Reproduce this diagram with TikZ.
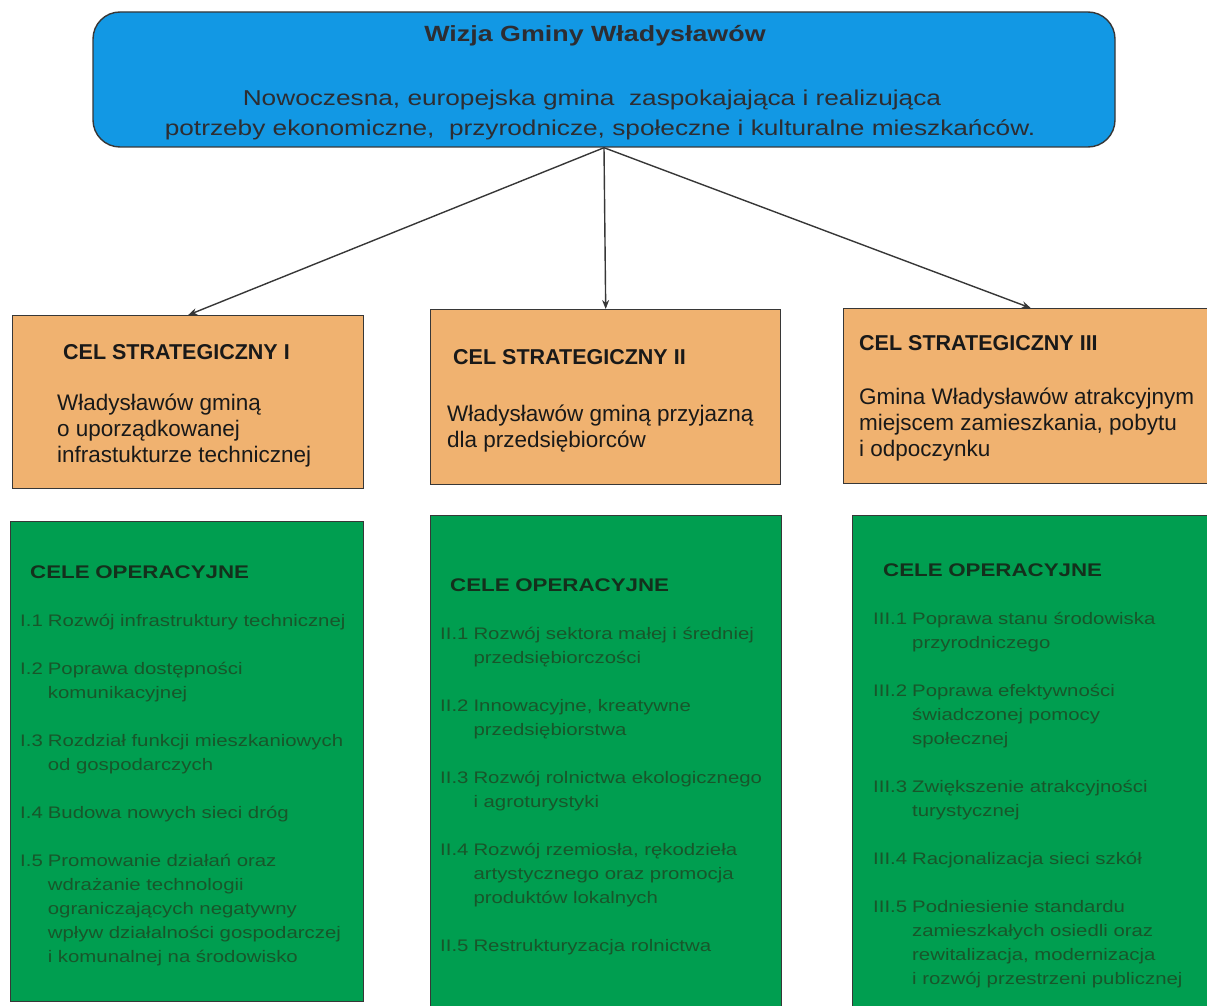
\documentclass[tikz,border=0pt]{standalone}
\usepackage{fontspec}
\usepackage{xcolor}
\usepackage{tikz}
\setmainfont{Liberation Sans}
\newfontfamily\szerokie{Liberation Sans}[FakeStretch=1.22]
\usetikzlibrary{arrows.meta,positioning}

\definecolor{wizjaBlue}{RGB}{18,152,228}
\definecolor{wizjaText}{RGB}{45,45,50}
\definecolor{celOrange}{RGB}{240,178,112}
\definecolor{opGreen}{RGB}{0,158,80}
\definecolor{opText}{RGB}{24,86,42}
\definecolor{opHead}{RGB}{20,48,28}
\definecolor{ramka}{RGB}{55,55,55}

\newcommand*{\cele}[4]{%
  \node [ opis, #3 ] at (#2) {%
    \hspace*{10pt}{\fontsize{18.3}{24}\selectfont\bfseries\color{opHead}CELE OPERACYJNE}\par
  \list{}{\settowidth{\labelwidth}{#1}\labelsep=0.3em
    \leftmargin=\labelwidth \advance\leftmargin by \labelsep
    \topsep=\baselineskip \partopsep=0pt \itemsep=\baselineskip
    \parsep=0pt \parskip=0pt \itemindent=0pt
    \def\makelabel##1{##1\hfil}}%
    #4
  \endlist
  };
}

\begin{document}
\begin{tikzpicture}[x=1pt, y=-1pt,
    every node/.style = {inner sep=0pt},
    ramka/.style    = {draw=ramka, line width=1.4pt},
    wizjabox/.style = {ramka, fill=wizjaBlue, rounded corners=27pt,
      minimum width=1022pt, minimum height=135pt},
    celbox/.style   = {ramka, fill=celOrange, anchor=north west},
    opbox/.style    = {ramka, fill=opGreen, anchor=north west},
    celhead/.style  = {anchor=west, text=black!90,
      font=\bfseries\fontsize{21.5}{26}\selectfont},
    celtxt/.style   = {anchor=north west, align=left, text=black!90,
      font=\fontsize{22.5}{26}\selectfont},
    opis/.style     = {anchor=north west, text width=355pt, align=left,
      text=opText, font=\szerokie\fontsize{16.7}{24}\selectfont},
    strzalka/.style = {-{Stealth[length=9pt, width=7pt]}, draw=ramka, line width=1.4pt}
  ]
  \useasboundingbox (0,0) rectangle (1207,1006);
  \clip (0,0) rectangle (1207,1006);

  \node[wizjabox] (wizja) at (604,79.5) {};
  \node[text=wizjaText, font=\szerokie\bfseries\fontsize{22}{26}\selectfont]
    (wizja-tytul) at ([xshift=-9pt,yshift=-24pt]wizja.north)
    {Wizja Gminy Władysławów};
  \node[align=center, text=wizjaText, font=\szerokie\fontsize{21.5}{30}\selectfont]
    (wizja-opis) at ([xshift=-4pt,yshift=-104pt]wizja.north)
    {Nowoczesna, europejska gmina~ zaspokajająca i realizująca\hspace*{16pt}\\
     potrzeby ekonomiczne,~ przyrodnicze, społeczne i kulturalne mieszkańców.};

  \node[celbox, minimum width=351pt, minimum height=173pt] (cel1) at (12,315) {};
  \node[celbox, minimum width=350pt, minimum height=175pt] (cel2) at (430,309) {};
  \node[celbox, minimum width=374pt, minimum height=175pt] (cel3) at (843,308) {};

  \node[celhead] (cel1-head) at ([xshift=51pt,yshift=-37pt]cel1.north west) {CEL STRATEGICZNY I};
  \node[celtxt] (cel1-txt) at ([xshift=45pt,yshift=-79pt]cel1.north west)
    {Władysławów gminą\\o uporządkowanej\\infrastukturze technicznej};
  \node[celhead] (cel2-head) at ([xshift=23pt,yshift=-48pt]cel2.north west) {CEL STRATEGICZNY II};
  \node[celtxt] (cel2-txt) at ([xshift=17pt,yshift=-96pt]cel2.north west)
    {Władysławów gminą przyjazną\\dla przedsiębiorców};
  \node[celhead] (cel3-head) at ([xshift=16pt,yshift=-35pt]cel3.north west) {CEL STRATEGICZNY III};
  \node[celtxt] (cel3-txt) at ([xshift=16pt,yshift=-80pt]cel3.north west)
    {Gmina Władysławów atrakcyjnym\\miejscem zamieszkania, pobytu\\i odpoczynku};

  \draw[strzalka] (wizja.south) -- (cel1.north);
  \draw[strzalka] (wizja.south) -- (cel2.north);
  \draw[strzalka] (wizja.south) -- (cel3.north);

  \node[opbox, minimum width=353pt, minimum height=480pt] (op1) at (10,521) {};
  \node[opbox, minimum width=351pt, minimum height=500pt] (op2) at (430,515) {};
  \node[opbox, minimum width=370pt, minimum height=500pt] (op3) at (852,515) {};

  \cele{I.1}{[xshift=10pt,yshift=-44.5pt]op1.north west}{}{%
    \item[I.1] Rozwój infrastruktury technicznej
    \item[I.2] Poprawa dostępności\\komunikacyjnej
    \item[I.3] Rozdział funkcji mieszkaniowych\\od gospodarczych
    \item[I.4] Budowa nowych sieci dróg
    \item[I.5] Promowanie działań oraz\\wdrażanie technologii\\ograniczających negatywny\\wpływ działalności gospodarczej\\i komunalnej na środowisko
  }
  \cele{II.1}{[xshift=10pt,yshift=-63.5pt]op2.north west}{}{%
    \item[II.1] Rozwój sektora małej i średniej\\przedsiębiorczości
    \item[II.2] Innowacyjne, kreatywne\\przedsiębiorstwa
    \item[II.3] Rozwój rolnictwa ekologicznego\\i agroturystyki
    \item[II.4] Rozwój rzemiosła, rękodzieła\\artystycznego oraz promocja\\produktów lokalnych
    \item[II.5] Restrukturyzacja rolnictwa
  }
  \cele{III.1}{[xshift=21pt,yshift=-48.5pt]op3.north west}{}{%
    \item[III.1] Poprawa stanu środowiska\\przyrodniczego
    \item[III.2] Poprawa efektywności\\świadczonej pomocy\\społecznej
    \item[III.3] Zwiększenie atrakcyjności\\turystycznej
    \item[III.4] Racjonalizacja sieci szkół
    \item[III.5] Podniesienie standardu\\zamieszkałych osiedli oraz\\rewitalizacja, modernizacja\\i rozwój przestrzeni publicznej
  }
\end{tikzpicture}
\end{document}
